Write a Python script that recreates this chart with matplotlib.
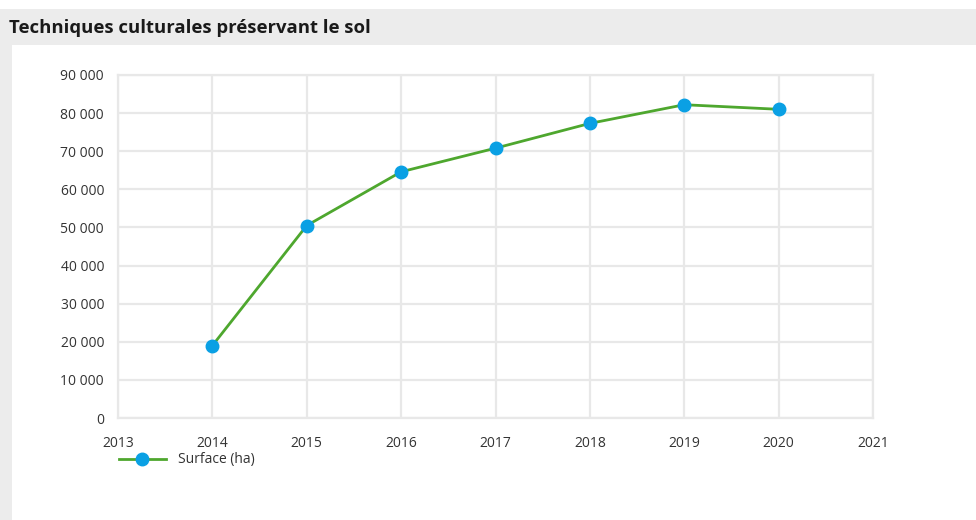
import matplotlib
matplotlib.use("Agg")
import matplotlib.pyplot as plt
from matplotlib.ticker import FuncFormatter, MultipleLocator
from matplotlib.patches import Rectangle

years = [2014, 2015, 2016, 2017, 2018, 2019, 2020]
surface = [19000, 50500, 64600, 70800, 77300, 82200, 81000]
series_label = "Surface (ha)"
title = "Techniques culturales préservant le sol"

plt.rcParams['font.family'] = ['Open Sans', 'DejaVu Sans']

fig = plt.figure(figsize=(9.76, 5.2), dpi=100)
W, H = 976, 520

# background panels
fig.patches.append(Rectangle((0, 0), 12 / W, (520 - 9) / H, transform=fig.transFigure,
                             facecolor='#ececec', edgecolor='none', zorder=0))
fig.patches.append(Rectangle((0, (520 - 45) / H), 1, 36 / H, transform=fig.transFigure,
                             facecolor='#ececec', edgecolor='none', zorder=0))
fig.text(9 / W, 1 - 28 / H, title, fontsize=13.3, fontweight='bold', color='#1a1a1a',
         va='center', ha='left')

ax = fig.add_axes([118 / W, 102 / H, (873 - 118) / W, (418 - 75) / H])
line_color = '#4ea72e'
marker_color = '#0aa0e4'
ax.plot(years, surface, color=line_color, lw=2.0, marker='o', markersize=9,
        markerfacecolor=marker_color, markeredgecolor=marker_color, label=series_label,
        zorder=3, clip_on=False)

ax.set_xlim(2013, 2021)
ax.set_ylim(0, 90000)
ax.xaxis.set_major_locator(MultipleLocator(1))
ax.yaxis.set_major_locator(MultipleLocator(10000))
ax.yaxis.set_major_formatter(FuncFormatter(lambda v, p: f"{int(v):,}".replace(",", " ")))
ax.xaxis.set_major_formatter(FuncFormatter(lambda v, p: f"{int(v)}"))
ax.grid(True, color='#e8e8e8', lw=1.6)
ax.set_axisbelow(True)
for s in ax.spines.values():
    s.set_color('#e8e8e8')
    s.set_linewidth(1.6)
ax.tick_params(length=0, labelsize=10, colors='#333333')
ax.tick_params(axis='y', pad=10)
ax.tick_params(axis='x', pad=13)

ax.legend(loc='upper left', bbox_to_anchor=(106 / W, 1 - 440 / H), bbox_transform=fig.transFigure,
          frameon=False, fontsize=10, handlelength=3.4, handletextpad=0.85,
          labelcolor='#333333')

fig.savefig("out.png", dpi=100)
